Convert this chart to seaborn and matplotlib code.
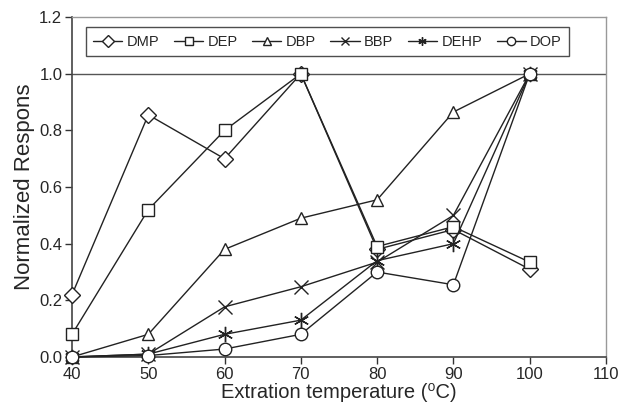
import numpy as np
import pandas as pd
import matplotlib
matplotlib.use("Agg")
import matplotlib.pyplot as plt
import seaborn as sns

sns.set_theme(style="ticks")
plt.rcParams["font.family"] = ["Liberation Sans", "DejaVu Sans"]

TEMPS = [40, 50, 60, 70, 80, 90, 100]
DMP  = [0.22, 0.855, 0.70, 1.00, 0.38, 0.45, 0.31]
DEP  = [0.08, 0.52, 0.80, 1.00, 0.39, 0.46, 0.335]
DBP  = [0.00, 0.08, 0.38, 0.49, 0.555, 0.865, 1.00]
BBP  = [0.00, 0.01, 0.177, 0.248, 0.335, 0.50, 1.00]
DEHP = [0.00, 0.01, 0.08, 0.13, 0.34, 0.40, 1.00]
DOP  = [0.00, 0.005, 0.028, 0.08, 0.30, 0.255, 1.00]

NAMES   = ["DMP", "DEP", "DBP", "BBP", "DEHP", "DOP"]
MARKERS = {"DMP": "D", "DEP": "s", "DBP": "^", "BBP": "x", "DEHP": (6, 2, 0), "DOP": "o"}
MSIZE   = {"DMP": 8, "DEP": 9, "DBP": 9, "BBP": 10, "DEHP": 11, "DOP": 9}

series = [DMP, DEP, DBP, BBP, DEHP, DOP]
df = pd.concat([pd.DataFrame({"temp": TEMPS, "resp": v, "cmp": n})
                for n, v in zip(NAMES, series)], ignore_index=True)

fig = plt.figure(figsize=(6.23, 4.18), dpi=100)
ax = fig.add_axes([0.1156, 0.146, 0.857, 0.813])

for n in NAMES:
    sub = df[df["cmp"] == n]
    sns.lineplot(data=sub, x="temp", y="resp", ax=ax, color="#222222",
                 linewidth=1.0, marker=MARKERS[n], markersize=MSIZE[n],
                 markerfacecolor="white", markeredgecolor="#222222",
                 markeredgewidth=1.0, label=n, clip_on=False, zorder=3)

ax.axhline(1.0, color="#555555", linewidth=1.0, zorder=1)

ax.set_xlim(40, 110)
ax.set_ylim(0, 1.2)
ax.set_xticks(np.arange(40, 111, 10))
ax.set_yticks(np.arange(0, 1.21, 0.2))
ax.set_yticklabels([f"{v:.1f}" for v in np.arange(0, 1.21, 0.2)])
ax.tick_params(labelsize=12, length=5, width=1, color="#333333", pad=2)
ax.set_xlabel("Extration temperature (\u2070C)", fontsize=14.5, labelpad=1)
ax.set_ylabel("Normalized Respons", fontsize=16, labelpad=3)

for s in ["left", "bottom"]:
    ax.spines[s].set_color("#444444")
    ax.spines[s].set_linewidth(1.2)
for s in ["top", "right"]:
    ax.spines[s].set_color("#999999")
    ax.spines[s].set_linewidth(1.0)

leg = ax.legend(ncol=6, loc="upper left", bbox_to_anchor=(0.026, 0.97),
                fontsize=10.5, frameon=True, fancybox=False, edgecolor="#222222",
                handlelength=2.0, handletextpad=0.3, columnspacing=1.0,
                borderpad=0.5, borderaxespad=0)
leg.get_frame().set_linewidth(1.0)
for h in leg.legend_handles:
    h.set_markersize(6)

fig.savefig("out.png", dpi=100)
